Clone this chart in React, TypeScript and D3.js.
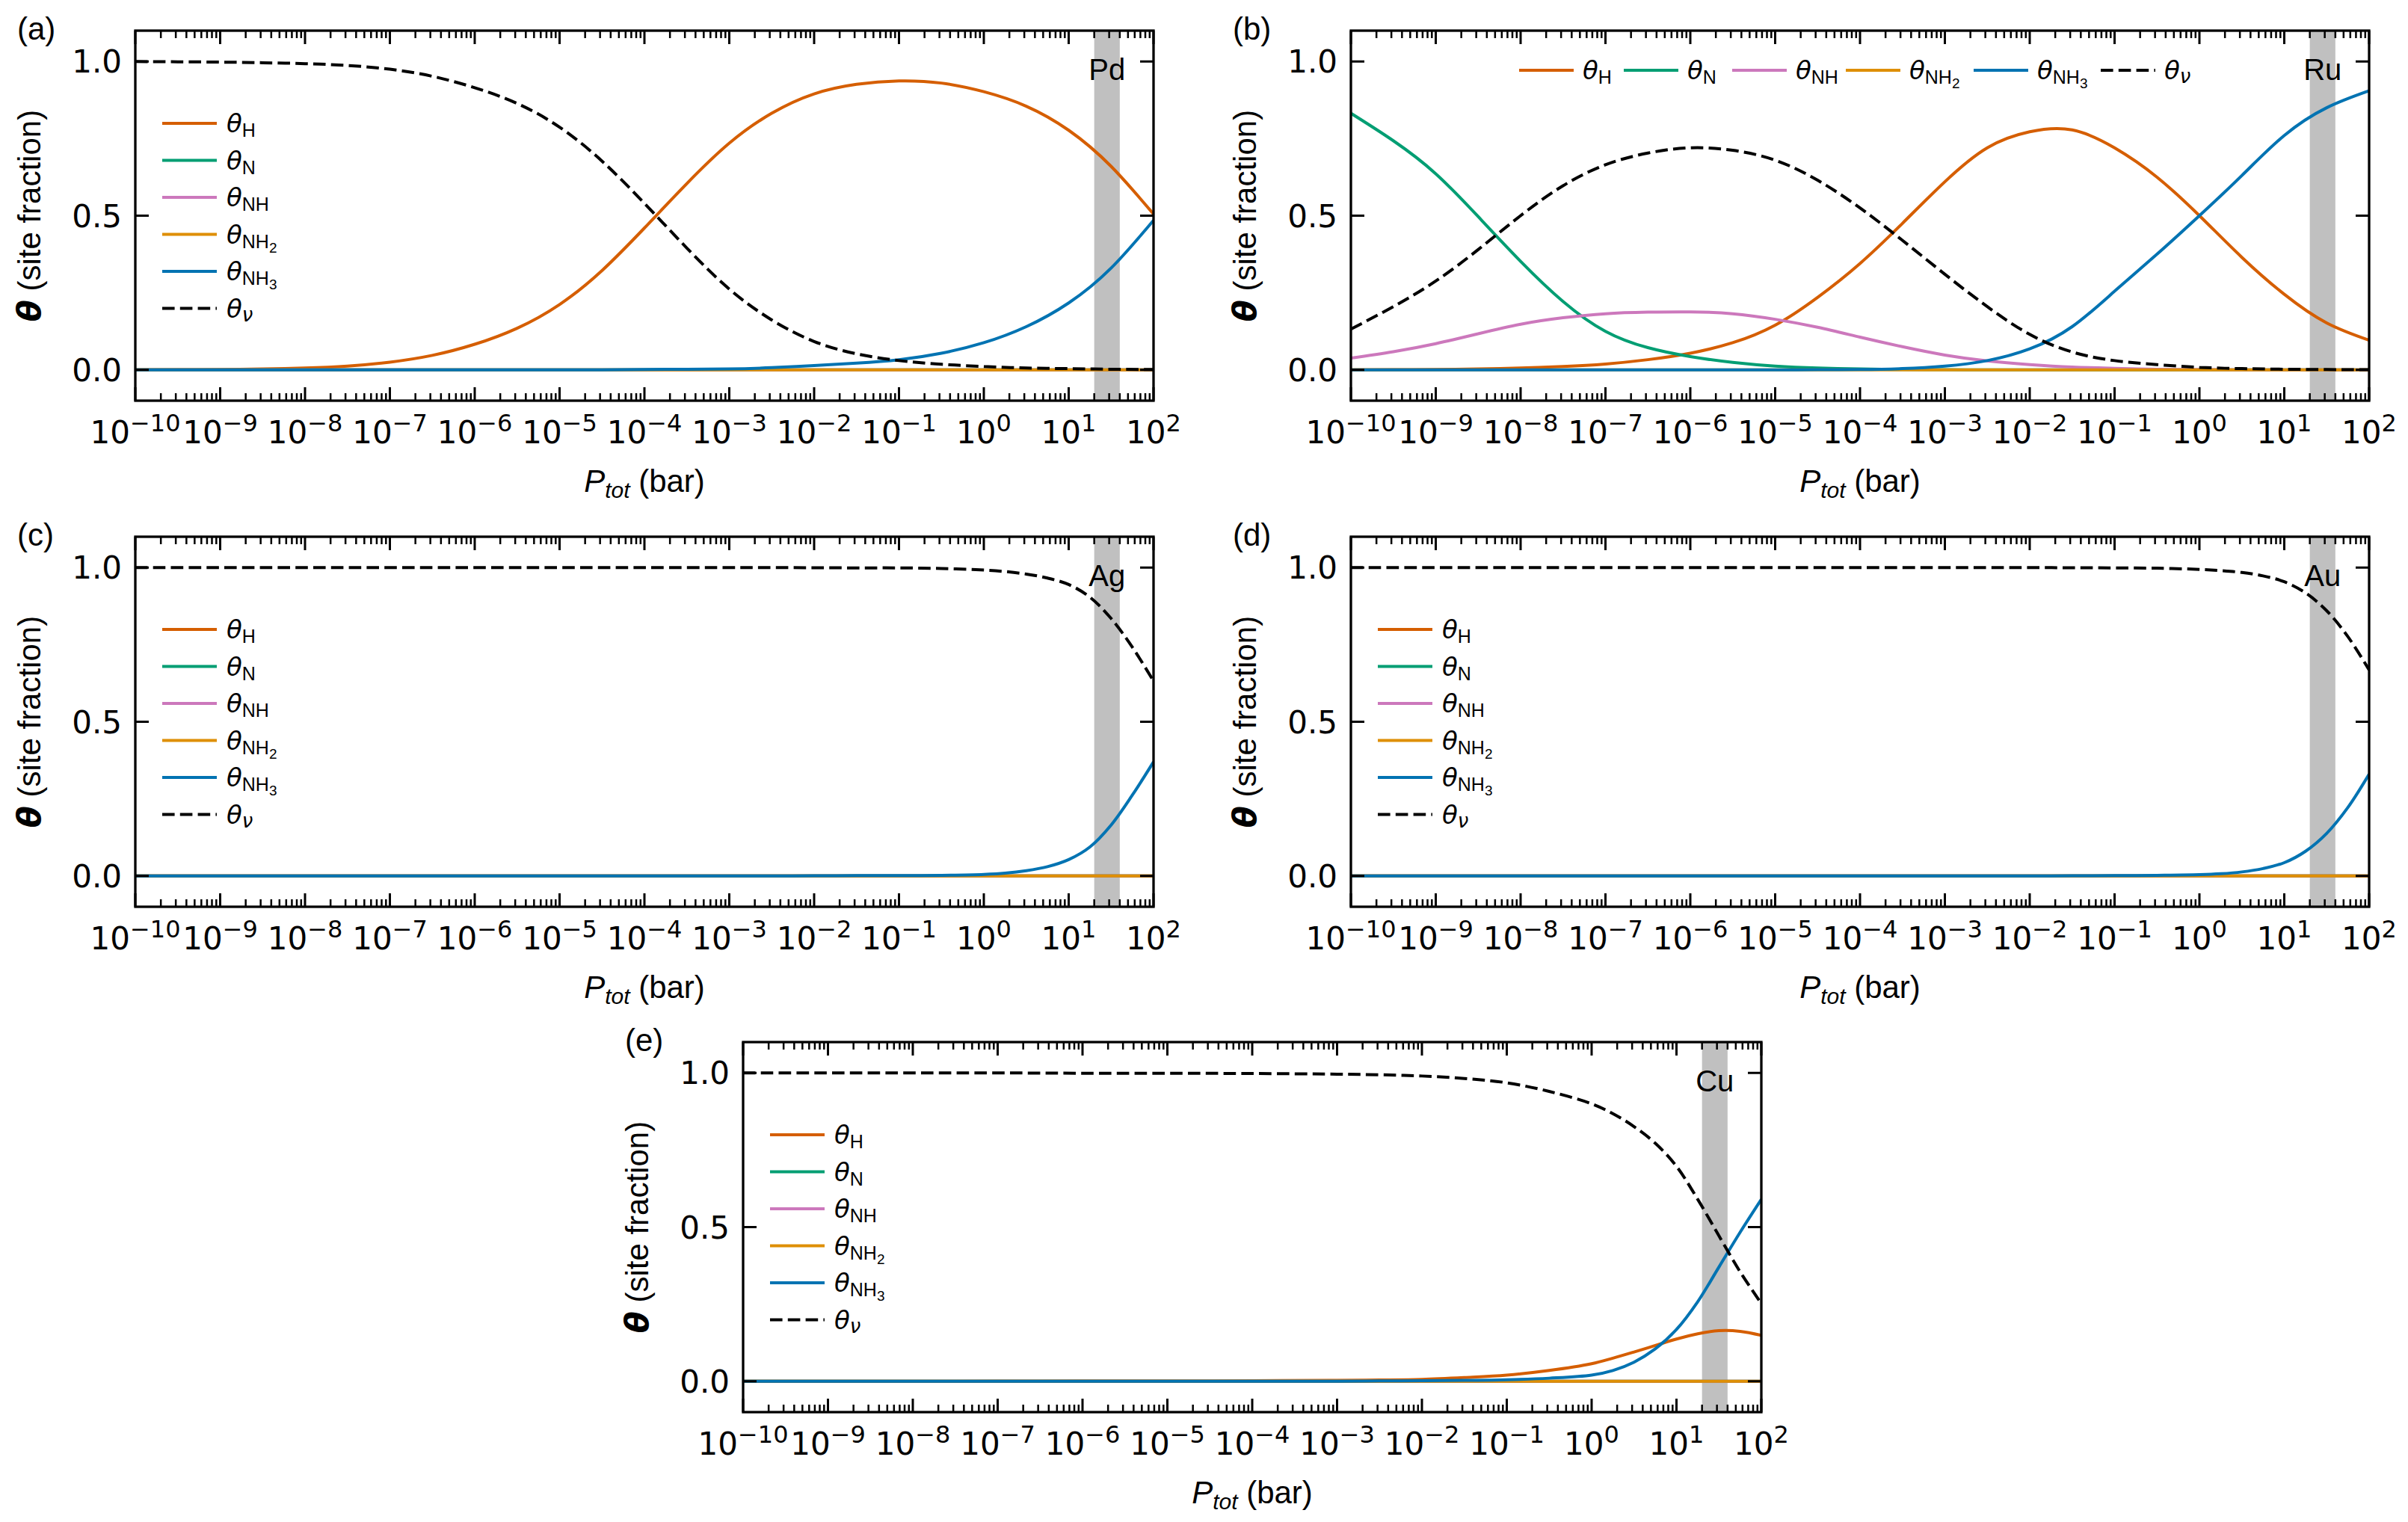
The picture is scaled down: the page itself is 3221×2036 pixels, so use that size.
import * as d3 from "d3";
import * as React from "react";

const W = 3221;
const H = 2036;
const PW = 1362;
const PH = 495;

const TICK_FONT = "DejaVu Sans";
const TEXT_FONT = "Liberation Sans, Arial, sans-serif";

// pressure grids (bar)
const P_HALF = [1e-10, 3.16e-10, 1e-9, 3.16e-9, 1e-8, 3.16e-8, 1e-7, 3.16e-7, 1e-6, 3.16e-6, 1e-5, 3.16e-5, 1e-4, 3.16e-4, 1e-3, 3.16e-3, 1e-2, 3.16e-2, 0.1, 0.316, 1, 3.16, 10, 31.6, 100];
const P_FINE = [1e-10, 1e-9, 1e-8, 1e-7, 1e-6, 1e-5, 1e-4, 1e-3, 3.16e-3, 1e-2, 3.16e-2, 0.1, 0.316, 1, 1.78, 3.16, 5.62, 10, 17.8, 31.6, 56.2, 100];

const ZEROS_HALF = [0, 0, 0, 0, 0, 0, 0, 0, 0, 0, 0, 0, 0, 0, 0, 0, 0, 0, 0, 0, 0, 0, 0, 0, 0];
const ZEROS_FINE = [0, 0, 0, 0, 0, 0, 0, 0, 0, 0, 0, 0, 0, 0, 0, 0, 0, 0, 0, 0, 0, 0];

// (a) Pd
const PD_H = [0, 0.0005, 0.001, 0.003, 0.006, 0.012, 0.025, 0.047, 0.083, 0.135, 0.212, 0.322, 0.46, 0.604, 0.735, 0.832, 0.895, 0.926, 0.937, 0.93, 0.902, 0.855, 0.777, 0.66, 0.505];
const PD_NH3 = [0, 0, 0, 0, 0, 0, 0, 0, 0, 0, 0, 0.0003, 0.001, 0.002, 0.003, 0.007, 0.014, 0.022, 0.033, 0.054, 0.088, 0.14, 0.217, 0.33, 0.485];
const PD_V = [1.0, 0.999, 0.998, 0.996, 0.993, 0.987, 0.975, 0.952, 0.915, 0.864, 0.787, 0.677, 0.54, 0.395, 0.262, 0.162, 0.092, 0.052, 0.03, 0.018, 0.011, 0.006, 0.004, 0.002, 0.001];

// (b) Ru
const RU_H = [0, 0.0005, 0.001, 0.003, 0.006, 0.011, 0.019, 0.033, 0.054, 0.088, 0.145, 0.235, 0.345, 0.475, 0.61, 0.72, 0.772, 0.778, 0.72, 0.625, 0.5, 0.365, 0.245, 0.152, 0.096];
const RU_N = [0.832, 0.743, 0.636, 0.497, 0.352, 0.222, 0.125, 0.072, 0.043, 0.024, 0.012, 0.006, 0.003, 0.001, 0.0005, 0, 0, 0, 0, 0, 0, 0, 0, 0, 0];
const RU_NH = [0.038, 0.059, 0.085, 0.117, 0.148, 0.169, 0.182, 0.187, 0.188, 0.182, 0.164, 0.138, 0.106, 0.075, 0.048, 0.029, 0.017, 0.009, 0.005, 0.002, 0.001, 0, 0, 0, 0];
const RU_NH3 = [0, 0, 0, 0, 0, 0, 0, 0, 0, 0, 0, 0.0005, 0.001, 0.004, 0.012, 0.03, 0.068, 0.14, 0.255, 0.375, 0.5, 0.63, 0.76, 0.85, 0.905];
const RU_V = [0.132, 0.205, 0.288, 0.39, 0.5, 0.597, 0.665, 0.703, 0.72, 0.712, 0.68, 0.615, 0.525, 0.42, 0.31, 0.205, 0.115, 0.058, 0.03, 0.017, 0.008, 0.004, 0.002, 0.001, 0.0005];

// (c) Ag
const AG_NH3 = [0, 0, 0, 0, 0, 0, 0, 0, 0, 0.0005, 0.001, 0.001, 0.002, 0.005, 0.009, 0.017, 0.03, 0.053, 0.094, 0.165, 0.262, 0.37];
const AG_V = [1, 1, 1, 1, 1, 1, 1, 1, 1, 0.9995, 0.999, 0.999, 0.997, 0.992, 0.987, 0.979, 0.966, 0.945, 0.904, 0.835, 0.742, 0.632];

// (d) Au
const AU_NH3 = [0, 0, 0, 0, 0, 0, 0, 0, 0, 0, 0.0005, 0.001, 0.002, 0.004, 0.007, 0.013, 0.024, 0.043, 0.08, 0.138, 0.222, 0.33];
const AU_V = [1, 1, 1, 1, 1, 1, 1, 1, 1, 1, 0.9995, 0.999, 0.998, 0.994, 0.99, 0.984, 0.973, 0.954, 0.918, 0.86, 0.776, 0.668];

// (e) Cu
const CU_H = [0, 0, 0, 0.0005, 0.001, 0.001, 0.002, 0.003, 0.004, 0.006, 0.012, 0.02, 0.035, 0.057, 0.075, 0.095, 0.116, 0.137, 0.154, 0.164, 0.162, 0.149];
const CU_NH3 = [0, 0, 0, 0, 0, 0, 0, 0, 0.001, 0.002, 0.003, 0.005, 0.01, 0.02, 0.035, 0.062, 0.105, 0.168, 0.258, 0.37, 0.483, 0.59];
const CU_V = [1, 1, 1, 1, 0.999, 0.999, 0.998, 0.996, 0.994, 0.99, 0.982, 0.968, 0.94, 0.9, 0.868, 0.826, 0.772, 0.697, 0.59, 0.472, 0.355, 0.252];

const SPECIES = ["H", "N", "NH", "NH2", "NH3", "v"];
const COLORS = ["#d55e00", "#029e73", "#cc78bc", "#de8f05", "#0173b2", "#000000"];
const BAND = [20, 40];
const X_DECADES = [-10, -9, -8, -7, -6, -5, -4, -3, -2, -1, 0, 1, 2];
const Y_TICKS = [0, 0.5, 1.0];

const PANELS = [
  { tag: "(a)", metal: "Pd", left: 181, top: 41, grid: P_HALF, series: [PD_H, ZEROS_HALF, ZEROS_HALF, ZEROS_HALF, PD_NH3, PD_V], legend: "col" },
  { tag: "(b)", metal: "Ru", left: 1807, top: 41, grid: P_HALF, series: [RU_H, RU_N, RU_NH, ZEROS_HALF, RU_NH3, RU_V], legend: "row" },
  { tag: "(c)", metal: "Ag", left: 181, top: 718, grid: P_FINE, series: [ZEROS_FINE, ZEROS_FINE, ZEROS_FINE, ZEROS_FINE, AG_NH3, AG_V], legend: "col" },
  { tag: "(d)", metal: "Au", left: 1807, top: 718, grid: P_FINE, series: [ZEROS_FINE, ZEROS_FINE, ZEROS_FINE, ZEROS_FINE, AU_NH3, AU_V], legend: "col" },
  { tag: "(e)", metal: "Cu", left: 994, top: 1394, grid: P_FINE, series: [CU_H, ZEROS_FINE, ZEROS_FINE, ZEROS_FINE, CU_NH3, CU_V], legend: "col" },
];

const ROW_OFFSETS = [225, 365, 510, 662, 833, 1003];

function ThetaLabel({ name, x, y }) {
  const sub = name === "v" ? "ν" : name.replace(/[23]/, "");
  const subsub = name.match(/[23]/) ? name.slice(-1) : null;
  return (
    <text x={x} y={y} fontSize={34} fill="#000">
      <tspan fontFamily={TICK_FONT} fontStyle="italic">θ</tspan>
      {name === "v" ? (
        <tspan fontFamily={TICK_FONT} fontStyle="italic" fontSize={26} dy={5}>{sub}</tspan>
      ) : (
        <tspan fontFamily={TEXT_FONT} fontSize={25} dy={6}>{sub}</tspan>
      )}
      {subsub && (
        <tspan fontFamily={TEXT_FONT} fontSize={19} dy={6}>{subsub}</tspan>
      )}
    </text>
  );
}

function Panel({ p }) {
  const x = d3.scaleLog().domain([1e-10, 1e2]).range([0, PW]);
  const y = d3.scaleLinear().domain([-0.1, 1.1]).range([PH, 0]);
  // uniform half-decade grids take a natural spline, the uneven grid a centripetal Catmull-Rom
  const curve = p.grid === P_HALF ? d3.curveNatural : d3.curveCatmullRom.alpha(0.5);
  const line = d3
    .line<number>()
    .x((_, i) => x(p.grid[i]))
    .y((d) => y(d))
    .curve(curve);

  const minor: number[] = [];
  X_DECADES.slice(0, -1).forEach((e) => {
    for (let m = 2; m <= 9; m++) minor.push(m * Math.pow(10, e));
  });
  const clipId = "clip" + p.metal;
  const bandMid = Math.sqrt(BAND[0] * BAND[1]);

  return (
    <g transform={`translate(${p.left},${p.top})`}>
      <defs>
        <clipPath id={clipId}>
          <rect x={0} y={0} width={PW} height={PH} />
        </clipPath>
      </defs>
      <rect x={x(BAND[0])} y={0} width={x(BAND[1]) - x(BAND[0])} height={PH} fill="#c0c0c0" />
      <g clipPath={`url(#${clipId})`}>
        {p.series.map((s, i) => (
          <path
            key={SPECIES[i]}
            d={line(s) || ""}
            fill="none"
            stroke={COLORS[i]}
            strokeWidth={4}
            strokeDasharray={SPECIES[i] === "v" ? "16.6 7.2" : undefined}
          />
        ))}
      </g>
      <text x={x(bandMid)} y={66} textAnchor="middle" fontFamily={TEXT_FONT} fontSize={40}>{p.metal}</text>

      {/* legend */}
      {SPECIES.map((s, i) => {
        const lx = p.legend === "row" ? ROW_OFFSETS[i] : 36;
        const ly = p.legend === "row" ? 53 : 124 + i * 49.5;
        return (
          <g key={s}>
            <line
              x1={lx}
              x2={lx + 73}
              y1={ly}
              y2={ly}
              stroke={COLORS[i]}
              strokeWidth={4}
              strokeDasharray={s === "v" ? "16.6 7.2" : undefined}
            />
            <ThetaLabel name={s} x={lx + 73 + (p.legend === "row" ? 12 : 13)} y={ly + 12} />
          </g>
        );
      })}

      {/* ticks */}
      {X_DECADES.map((e) => {
        const tx = x(Math.pow(10, e));
        return (
          <g key={"M" + e}>
            <line x1={tx} x2={tx} y1={PH} y2={PH - 18} stroke="#000" strokeWidth={3} />
            <line x1={tx} x2={tx} y1={0} y2={18} stroke="#000" strokeWidth={3} />
            <text x={tx} y={PH + 57} textAnchor="middle" fontFamily={TICK_FONT} fontSize={42}>
              10
              <tspan fontSize={32} dy={-16}>{e < 0 ? "\u2212" + Math.abs(e) : String(e)}</tspan>
            </text>
          </g>
        );
      })}
      {minor.map((v, i) => {
        const tx = x(v);
        return (
          <g key={"m" + i}>
            <line x1={tx} x2={tx} y1={PH} y2={PH - 10} stroke="#000" strokeWidth={2.5} />
            <line x1={tx} x2={tx} y1={0} y2={10} stroke="#000" strokeWidth={2.5} />
          </g>
        );
      })}
      {Y_TICKS.map((t) => (
        <g key={"y" + t}>
          <line x1={0} x2={18} y1={y(t)} y2={y(t)} stroke="#000" strokeWidth={3} />
          <line x1={PW} x2={PW - 18} y1={y(t)} y2={y(t)} stroke="#000" strokeWidth={3} />
          <text x={-18} y={y(t) + 15} textAnchor="end" fontFamily={TICK_FONT} fontSize={42}>{t.toFixed(1)}</text>
        </g>
      ))}
      <rect x={0} y={0} width={PW} height={PH} fill="none" stroke="#000" strokeWidth={3.3} />

      {/* axis labels */}
      <text x={PW / 2} y={PH + 122} textAnchor="middle" fontFamily={TEXT_FONT} fontSize={42}>
        <tspan fontStyle="italic">P</tspan>
        <tspan fontStyle="italic" fontSize={30} dy={8}>tot</tspan>
        <tspan dy={-8}>{" (bar)"}</tspan>
      </text>
      <text transform={`translate(-127,${PH / 2}) rotate(-90)`} textAnchor="middle" fontFamily={TEXT_FONT} fontSize={42}>
        <tspan fontFamily={TICK_FONT} fontWeight="bold" fontStyle="italic">θ</tspan>
        <tspan>{" (site fraction)"}</tspan>
      </text>
      <text x={-158} y={12} fontFamily={TEXT_FONT} fontSize={42}>{p.tag}</text>
    </g>
  );
}

export default function App() {
  return (
    <svg
      width={W}
      height={H}
      viewBox={`0 0 ${W} ${H}`}
      style={{ position: "absolute", left: 0, top: 0, background: "#fff" }}
    >
      <rect x={0} y={0} width={W} height={H} fill="#fff" />
      {PANELS.map((p) => (
        <Panel key={p.tag} p={p} />
      ))}
    </svg>
  );
}
